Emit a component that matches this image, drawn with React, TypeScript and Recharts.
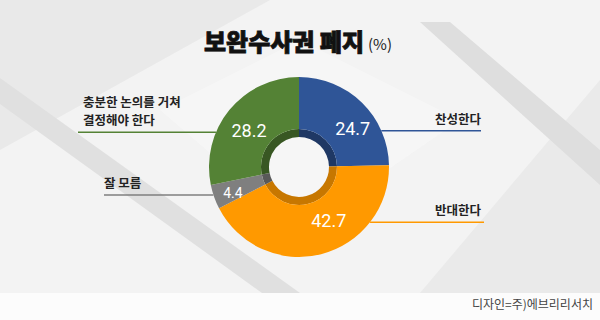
import { PieChart, Pie, Cell } from "recharts"

const categories = [["찬성한다"], ["반대한다"], ["잘 모름"], ["충분한 논의를 거쳐", "결정해야 한다"]]
const shares = [24.7, 42.7, 4.4, 28.2]

const title = "보완수사권 폐지"
const unit = "(%)"
const credit = "디자인=주)에브리리서치"

const colors = ["#2f5597", "#ff9900", "#7f7f7f", "#548235"]
const ringColors = ["#1f3864", "#c77700", "#595959", "#385723"]

// label placement tweaks, by slice
const valueAngleShift = [-10, 15, 2, 3]
const valueRadius = [66, 61, 71, 62]
const valueSize = [18, 18, 14, 18]
const calloutEnd = [481, 484, 104, 78]
const textX = [481, 481, 104, 83]

const data = categories.map((lines, i) => ({ name: lines.join(" "), value: shares[i] }))

const CX = 299
const CY = 167
const R = 90
const RADIAN = Math.PI / 180
const KR = "'Noto Sans CJK KR', 'Noto Sans', sans-serif"
const LINE_GAP = 18

function renderLabel(props: any) {
  const { cx, cy, midAngle, outerRadius, index, value } = props
  const a = (midAngle + valueAngleShift[index]) * RADIAN
  const x = cx + valueRadius[index] * Math.cos(-a)
  const y = cy + valueRadius[index] * Math.sin(-a)
  const ly = y + 2
  const dy = ly - cy
  const edge = Math.sqrt(Math.max(outerRadius * outerRadius - dy * dy, 0))
  const right = x > cx
  const x1 = right ? cx + edge : cx - edge
  const lines = categories[index]
  return (
    <g>
      <line x1={x1} y1={ly} x2={calloutEnd[index]} y2={ly} stroke={colors[index]} strokeWidth={1.5} />
      <text
        x={textX[index]}
        y={ly - 7 - (lines.length - 1) * LINE_GAP}
        textAnchor={right ? "end" : "start"}
        fontFamily={KR}
        fontWeight={700}
        fontSize={12.5}
        fill="#222"
      >
        {lines.map((t, k) => (
          <tspan key={k} x={textX[index]} dy={k === 0 ? 0 : LINE_GAP}>
            {t}
          </tspan>
        ))}
      </text>
      <text
        x={x}
        y={y}
        textAnchor="middle"
        dominantBaseline="central"
        fontFamily="Roboto, sans-serif"
        fontSize={valueSize[index]}
        fill="#fff"
      >
        {value}
      </text>
    </g>
  )
}

export default function App() {
  return (
    <div style={{ position: "absolute", left: 0, top: 0, width: 600, height: 320, overflow: "hidden" }}>
      <svg width={600} height={320} style={{ position: "absolute", left: 0, top: 0 }}>
        <rect x={0} y={0} width={600} height={320} fill="#f3f3f3" />
        <polygon points="0,0 270,0 0,150" fill="#e9e9e9" />
        <polygon points="600,80 600,293 420,293" fill="#eaeaea" />
        <polygon points="0,78 0,104 262,293 300,293" fill="#e0e0e0" />
        <polygon points="420,22 450,22 600,150 600,185" fill="#dedede" />
        <polygon points="160,110 300,40 460,120 300,230" fill="#f8f8f8" opacity={0.6} />
        <rect x={0} y={293} width={600} height={27} fill="#fcfcfc" />
        <text x={593} y={309} textAnchor="end" fontFamily={KR} fontSize={12} fill="#444">
          {credit}
        </text>
        <text
          x={284}
          y={51}
          textAnchor="middle"
          fontFamily={KR}
          fontWeight={900}
          fontSize={24}
          fill="#111"
          stroke="#111"
          strokeWidth={0.8}
        >
          {title}
        </text>
        <text x={368} y={50} fontFamily={KR} fontSize={15} fill="#222">
          {unit}
        </text>
      </svg>
      <PieChart width={600} height={320} margin={{ top: 0, right: 0, bottom: 0, left: 0 }} style={{ position: "absolute", left: 0, top: 0 }}>
        <Pie
          data={data}
          dataKey="value"
          cx={CX}
          cy={CY}
          innerRadius={30}
          outerRadius={38}
          startAngle={90}
          endAngle={-270}
          stroke="none"
          isAnimationActive={false}
        >
          {data.map((d, i) => (
            <Cell key={d.name} fill={ringColors[i]} />
          ))}
        </Pie>
        <Pie
          data={data}
          dataKey="value"
          cx={CX}
          cy={CY}
          innerRadius={38}
          outerRadius={R}
          startAngle={90}
          endAngle={-270}
          stroke="none"
          label={renderLabel}
          labelLine={false}
          isAnimationActive={false}
        >
          {data.map((d, i) => (
            <Cell key={d.name} fill={colors[i]} />
          ))}
        </Pie>
      </PieChart>
    </div>
  )
}
